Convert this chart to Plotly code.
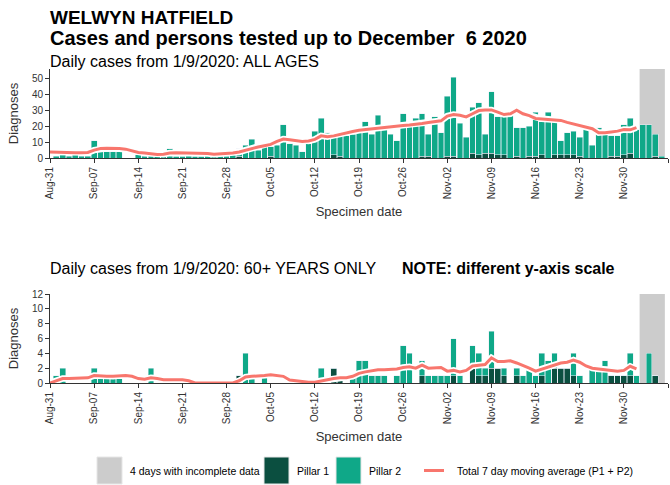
import pandas as pd
import plotly.graph_objects as go

# ---- data -------------------------------------------------------------
dates = pd.date_range("2020-09-01", "2020-12-06", freq="D")      # specimen dates
ma_dates = pd.date_range("2020-08-31", "2020-12-02", freq="D")   # 7-day average dates
incomplete_days = ["2020-12-03", "2020-12-04", "2020-12-05", "2020-12-06"]

tick_dates = pd.date_range("2020-08-31", "2020-12-07", freq="7D")
tick_labels = ["Aug-31", "Sep-07", "Sep-14", "Sep-21", "Sep-28", "Oct-05", "Oct-12",
               "Oct-19", "Oct-26", "Nov-02", "Nov-09", "Nov-16", "Nov-23", "Nov-30",
               "Dec-07"]

# All ages
all_p1 = [0, 0, 0, 0, 0, 0, 0, 0, 0, 0,
          0, 0, 0, 0, 0, 0, 0, 0, 0, 0,
          0, 0, 0, 0, 0, 0, 0, 0, 0, 1,
          0, 0, 0, 0, 1, 0, 0, 0, 0, 0,
          0, 0, 0, 0, 2, 1, 0, 0, 0, 0,
          0, 0, 0, 0, 0, 0, 0, 0, 1, 1,
          0, 0, 1, 1, 0, 0, 3, 2, 3, 3,
          2, 2, 0, 1, 0, 1, 1, 2, 0, 2,
          2, 2, 2, 1, 0, 0, 0, 0, 1, 1,
          2, 3, 0, 0, 0, 1, 0]
all_p2 = [1, 2, 1, 5, 1, 1, 11, 4, 4, 4,
          4, 0, 0, 2, 1, 2, 1, 1, 6, 1,
          1, 2, 1, 1, 2, 1, 1, 1, 2, 5,
          8, 12, 5, 9, 6, 8, 21, 9, 8, 4,
          9, 17, 25, 16, 11, 13, 14, 15, 19, 23,
          15, 27, 18, 15, 11, 28, 23, 25, 27, 14,
          26, 16, 38, 50, 22, 13, 29, 33, 12, 39,
          24, 24, 27, 18, 19, 19, 28, 21, 29, 21,
          9, 14, 15, 12, 21, 8, 19, 15, 13, 13,
          19, 22, 18, 21, 21, 14, 1]
all_ma = [3.8, 3.6, 3.5, 3.4, 3.4, 3.4, 3.5, 5.0, 6.0, 6.1,
          6.1, 6.0, 5.6, 4.5, 3.5, 3.2, 2.8, 2.2, 2.4, 3.2,
          3.3, 3.3, 3.2, 3.2, 3.1, 2.9, 2.4, 2.6, 2.9, 3.1,
          3.8, 5.0, 6.0, 7.0, 7.8, 8.6, 10.5, 12.0, 11.5, 10.8,
          10.5, 10.8, 11.8, 14.0, 13.4, 14.0, 15.0, 16.2, 16.8, 17.5,
          18.0, 18.5, 19.0, 19.5, 20.0, 20.3, 20.6, 20.9, 21.2, 21.8,
          22.4, 23.0, 23.5, 26.5, 27.5, 27.0, 26.0, 28.0, 30.0, 30.4,
          30.4, 29.0, 27.5, 28.0, 30.2, 28.0, 26.8, 25.0, 24.8, 24.5,
          24.2, 23.8, 22.5, 21.5, 20.5, 19.5, 18.5, 16.0, 16.0, 16.5,
          17.0, 18.0, 17.8, 19.2]

# 60+ years
old_p1 = [0, 0, 0, 0, 0, 0, 0, 0, 0, 0,
          0, 0, 0, 0, 0, 0, 0, 0, 0, 0,
          0, 0, 0, 0, 0, 0, 0, 0, 0, 1,
          0, 0, 0, 0, 0, 0, 0, 0, 0, 0,
          0, 0, 0, 0, 2, 1, 0, 0, 0, 0,
          0, 0, 0, 0, 0, 0, 0, 0, 1, 0,
          0, 0, 0, 1, 0, 0, 2, 1, 1, 2,
          2, 1, 0, 1, 0, 0, 0, 1, 0, 2,
          2, 2, 1, 0, 0, 0, 0, 0, 1, 1,
          1, 1, 0, 0, 0, 1, 0]
old_p2 = [1, 2, 0, 0, 0, 0, 2, 1, 1, 1,
          1, 0, 0, 0, 0, 2, 0, 0, 0, 0,
          0, 0, 0, 0, 0, 0, 0, 0, 0, 0,
          4, 1, 0, 1, 0, 0, 0, 0, 0, 0,
          0, 0, 2, 0, 0, 0, 0, 1, 3, 3,
          1, 1, 1, 0, 1, 5, 4, 0, 2, 1,
          1, 1, 1, 5, 1, 0, 3, 3, 1, 5,
          0, 1, 0, 1, 1, 2, 1, 3, 3, 2,
          0, 0, 3, 1, 0, 2, 2, 3, 0, 0,
          0, 3, 1, 0, 4, 0, 0]
old_ma = [0.0, 0.3, 0.6, 0.6, 0.6, 0.7, 0.7, 1.0, 0.9, 0.9,
          0.9, 1.0, 1.0, 0.9, 0.6, 0.5, 0.7, 0.6, 0.45, 0.45,
          0.45, 0.45, 0.3, 0.0, 0.0, 0.0, 0.0, 0.0, 0.0, 0.0,
          0.3, 0.8, 0.9, 1.0, 1.0, 1.1, 1.0, 0.9, 0.4, 0.3,
          0.3, 0.1, 0.1, 0.3, 0.4, 0.6, 0.7, 0.7, 0.9, 1.3,
          1.5, 1.7, 1.8, 1.8, 1.8, 1.9, 2.1, 2.2, 2.0, 2.4,
          2.0, 2.1, 2.1, 1.6, 1.7, 1.5, 1.7, 2.3, 2.4, 2.5,
          3.4, 2.9, 2.9, 3.0, 2.7, 2.4, 2.0, 1.6, 1.9, 2.2,
          2.4, 2.7, 2.8, 3.1, 2.8, 2.3, 2.0, 1.9, 1.9, 1.8,
          1.6, 1.7, 2.25, 1.9]

# ---- styling ----------------------------------------------------------
FONT = "Liberation Sans, Arial, sans-serif"
DARK = "#0B4F40"
TEAL = "#0FA888"
RED = "#F8766D"
GREY = "#CCCCCC"
AXIS = "#333333"

W, H = 670, 485
ML, MR, MT, MB = 50, 2, 69, 102
PW, PH = W - ML - MR, H - MT - MB


def px(x):
    return (x - ML) / PW


def py(y):
    return (H - MB - y) / PH


fig = go.Figure()


def add_panel(p1, p2, ma, xa, ya):
    fig.add_trace(go.Bar(x=dates, y=p1, name="Pillar 1", marker_color=DARK,
                         xaxis=xa, yaxis=ya, showlegend=False))
    fig.add_trace(go.Bar(x=dates, y=p2, name="Pillar 2", marker_color=TEAL,
                         xaxis=xa, yaxis=ya, showlegend=False))
    fig.add_trace(go.Scatter(x=ma_dates, y=ma, mode="lines", hoverinfo="skip",
                             line=dict(color="white", width=6.5),
                             xaxis=xa, yaxis=ya, showlegend=False))
    fig.add_trace(go.Scatter(x=ma_dates, y=ma, mode="lines",
                             name="Total 7 day moving average (P1 + P2)",
                             line=dict(color=RED, width=3),
                             xaxis=xa, yaxis=ya, showlegend=False))


add_panel(all_p1, all_p2, all_ma, "x", "y")
add_panel(old_p1, old_p2, old_ma, "x2", "y2")

# incomplete-data band (half a day either side of the incomplete days)
band_x0 = pd.Timestamp(incomplete_days[0]) - pd.Timedelta(hours=12)
band_x1 = pd.Timestamp(incomplete_days[-1]) + pd.Timedelta(hours=12)
shapes = []
for xr, yr in (("x", "y domain"), ("x2", "y2 domain")):
    shapes.append(dict(type="rect", xref=xr, yref=yr, x0=band_x0, x1=band_x1,
                       y0=0, y1=1, fillcolor=GREY, line_width=0, layer="below"))

xcommon = dict(range=["2020-08-31", "2020-12-07"], tickvals=tick_dates,
               ticktext=tick_labels, tickangle=-90, ticks="outside", ticklen=4,
               tickcolor=AXIS, showline=True, linecolor=AXIS, linewidth=1,
               showgrid=False, zeroline=False, automargin=False,
               tickfont=dict(family=FONT, size=10, color=AXIS),
               title=dict(text="Specimen date", standoff=8,
                          font=dict(family=FONT, size=13, color=AXIS)))
ycommon = dict(ticks="outside", ticklen=4, tickcolor=AXIS, showline=True,
               linecolor=AXIS, linewidth=1, showgrid=False, zeroline=False,
               automargin=False, tickfont=dict(family=FONT, size=10, color=AXIS),
               title=dict(text="Diagnoses", standoff=10,
                          font=dict(family=FONT, size=13, color=AXIS)))

top_lo, top_hi = py(158), 1.0
bot_lo, bot_hi = 0.0, py(294)

fig.update_layout(
    width=W, height=H,
    margin=dict(l=ML, r=MR, t=MT, b=MB),
    paper_bgcolor="white", plot_bgcolor="white",
    barmode="stack", bargap=0.08,
    font=dict(family=FONT, color="black"),
    xaxis=dict(domain=[0, 1], anchor="y", **xcommon),
    yaxis=dict(domain=[top_lo, top_hi], anchor="x", range=[0, 56.3],
               tickvals=[0, 10, 20, 30, 40, 50], **ycommon),
    xaxis2=dict(domain=[0, 1], anchor="y2", **xcommon),
    yaxis2=dict(domain=[bot_lo, bot_hi], anchor="x2", range=[0, 12],
                tickvals=[0, 2, 4, 6, 8, 10, 12], **ycommon),
    shapes=shapes,
    showlegend=False,
)

ann = []


def text(x, y, s, size, bold=False, color="black"):
    ann.append(dict(x=px(x), y=py(y), xref="paper", yref="paper", text=s,
                    showarrow=False, xanchor="left", yanchor="middle",
                    font=dict(family=FONT, size=size, color=color)))


text(48, 18, "<b>WELWYN HATFIELD</b>", 19)
text(48, 38, "<b>Cases and persons tested up to December  6 2020</b>", 20)
text(48, 61, "Daily cases from 1/9/2020: ALL AGES", 16)
text(48, 268, "Daily cases from 1/9/2020: 60+ YEARS ONLY", 16)
text(400, 268, "<b>NOTE: different y-axis scale</b>", 16)

# legend row
legend_items = [("sq", GREY, 97, "4 days with incomplete data"),
                ("sq", DARK, 264, "Pillar 1"),
                ("sq", TEAL, 336, "Pillar 2"),
                ("ln", RED, 424, "Total 7 day moving average (P1 + P2)")]
for kind, col, x0, label in legend_items:
    if kind == "sq":
        fig.add_shape(type="rect", xref="paper", yref="paper",
                      x0=px(x0), x1=px(x0 + 25), y0=py(484), y1=py(457),
                      fillcolor=col, line=dict(color="#e6e6e6", width=1))
    else:
        fig.add_shape(type="line", xref="paper", yref="paper",
                      x0=px(x0), x1=px(x0 + 20), y0=py(470.5), y1=py(470.5),
                      line=dict(color=col, width=3))
    text(x0 + 31, 470.5, label, 10.5)

fig.update_layout(annotations=ann)

fig.write_html("out.html")
